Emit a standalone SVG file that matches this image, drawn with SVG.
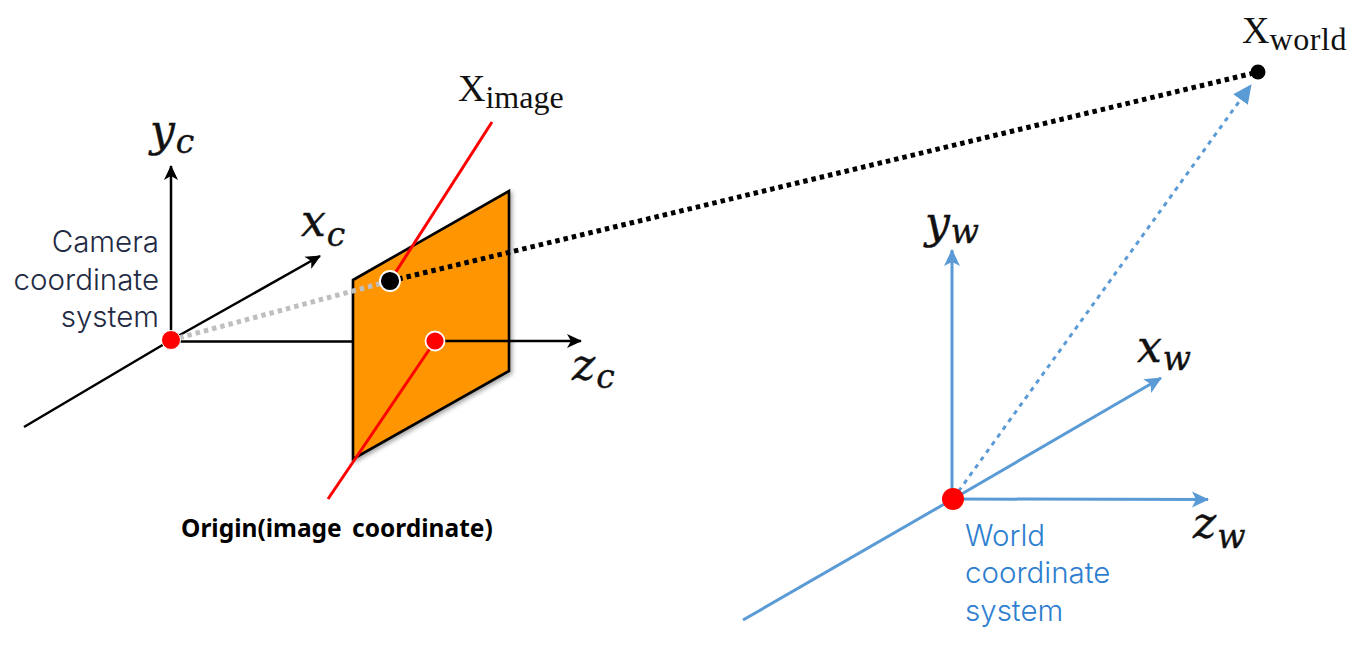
<svg xmlns="http://www.w3.org/2000/svg" width="1357" height="646" viewBox="0 0 1357 646">
  <style>
    .math { font-family: "DejaVu Serif", "Liberation Serif", serif; font-style: italic; fill: #111; stroke: #111; stroke-width: 0.4; }
    .mname { font-size: 44px; }
    .msub { font-size: 33px; }
    .cap { font-family: "Liberation Serif", "DejaVu Serif", serif; fill: #111; }
    .label { font-family: Inter, "Noto Sans", "Liberation Sans", sans-serif; font-size: 29.500px; font-weight: 300; }
    .black { stroke: #000; stroke-width: 2.500; fill: none; }
    .blue { stroke: #5b9bd5; stroke-width: 3; fill: none; }
    .red { stroke: #f00; stroke-width: 3; fill: none; }
  </style>
  <defs>
    <marker id="headBlack" markerUnits="userSpaceOnUse" markerWidth="16" markerHeight="16" refX="14" refY="8" orient="auto">
      <path d="M0,1 L15,8 L0,15 L4,8 Z" fill="#000"/>
    </marker>
    <marker id="headBlue" markerUnits="userSpaceOnUse" markerWidth="18" markerHeight="18" refX="16" refY="8" orient="auto">
      <path d="M0,0 L17,8 L0,16 L4,8 Z" fill="#5b9bd5"/>
    </marker>
    <marker id="headBlueSolid" markerUnits="userSpaceOnUse" markerWidth="20" markerHeight="20" refX="18" refY="10" orient="auto">
      <path d="M0,1 L19,10 L0,19 Z" fill="#5b9bd5"/>
    </marker>
    <filter id="soft" x="-10%" y="-10%" width="125%" height="125%">
      <feDropShadow dx="2" dy="2" stdDeviation="2" flood-color="#000" flood-opacity="0.35"/>
    </filter>
  </defs>

  <!-- Image plane sits under the rays that pass through it -->
  <g id="image-plane">
    <polygon points="353,280 509,191 509,371 353,459" fill="#ff9500" stroke="#000" stroke-width="2.600" stroke-linejoin="miter" filter="url(#soft)"/>
  </g>

  <g id="connectors">
    <!-- camera axes -->
    <line class="black" x1="24" y1="427" x2="171" y2="340"/>
    <line class="black" x1="171" y1="340" x2="320" y2="256" marker-end="url(#headBlack)"/>
    <line class="black" x1="171" y1="340" x2="171" y2="166" marker-end="url(#headBlack)"/>
    <line class="black" x1="171" y1="341.500" x2="353" y2="341.500"/>
    <line class="black" x1="435" y1="341" x2="581" y2="341" marker-end="url(#headBlack)"/>
    <!-- world axes -->
    <line class="blue" x1="743" y1="620" x2="953" y2="499"/>
    <line class="blue" x1="952" y1="499" x2="952" y2="250" marker-end="url(#headBlue)"/>
    <line class="blue" x1="953" y1="499" x2="1161" y2="378" marker-end="url(#headBlue)"/>
    <line class="blue" x1="953" y1="499" x2="1208" y2="499.500" marker-end="url(#headBlue)"/>
    <!-- projection rays -->
    <line x1="171" y1="340" x2="390" y2="281" stroke="#bfbfbf" stroke-width="5" stroke-dasharray="4.500 4"/>
    <line x1="390" y1="281" x2="1258" y2="72" stroke="#000" stroke-width="5" stroke-dasharray="4.500 4"/>
    <line x1="953" y1="499" x2="1251" y2="85" stroke="#5b9bd5" stroke-width="3" stroke-dasharray="4.500 5" marker-end="url(#headBlueSolid)"/>
    <!-- red leader lines -->
    <line class="red" x1="390" y1="281" x2="492" y2="122"/>
    <line class="red" x1="435" y1="341" x2="328" y2="499"/>
  </g>

  <g id="camera-origin"><circle cx="171" cy="340" r="9.500" fill="#f00" stroke="#fff" stroke-width="1"/></g>
  <g id="image-origin"><circle cx="435" cy="341" r="9.500" fill="#f00" stroke="#fff" stroke-width="1.800"/></g>
  <g id="image-point"><circle cx="390" cy="281" r="10" fill="#000" stroke="#fff" stroke-width="1.800"/></g>
  <g id="world-point"><circle cx="1258" cy="72" r="7.500" fill="#000"/></g>
  <g id="world-origin"><circle cx="953" cy="499" r="11" fill="#f00"/></g>

  <g id="camera-axis-labels">
    <text class="math mname" x="150" y="146">y<tspan class="msub" dx="1" dy="7">c</tspan></text>
    <text class="math mname" x="301" y="236">x<tspan class="msub" dx="1" dy="10">c</tspan></text>
    <text class="math mname" x="572" y="380">z<tspan class="msub" dx="1" dy="8">c</tspan></text>
  </g>
  <g id="world-axis-labels">
    <text class="math mname" x="925" y="238">y<tspan class="msub" dx="1" dy="5">w</tspan></text>
    <text class="math mname" x="1137" y="362">x<tspan class="msub" dx="1" dy="8">w</tspan></text>
    <text class="math mname" x="1193" y="538">z<tspan class="msub" dx="1" dy="10">w</tspan></text>
  </g>

  <g id="point-labels">
    <text class="cap" x="458" y="101" font-size="38">X<tspan font-size="32" dy="7">image</tspan></text>
    <text class="cap" x="1242" y="43" font-size="38">X<tspan font-size="32" dy="7" letter-spacing="0.6">world</tspan></text>
  </g>

  <g id="camera-caption" class="label" fill="#1f2a44" text-anchor="end">
    <text x="159" y="252">Camera</text>
    <text x="159" y="290">coordinate</text>
    <text x="159" y="327">system</text>
  </g>
  <g id="world-caption" class="label" fill="#2f7fd0">
    <text x="965" y="546">World</text>
    <text x="965" y="583">coordinate</text>
    <text x="965" y="621">system</text>
  </g>
  <g id="origin-caption">
    <text x="181" y="537" font-family="'Noto Sans', 'Liberation Sans', sans-serif" font-size="24.500" font-weight="700" word-spacing="4" fill="#000">Origin(image coordinate)</text>
  </g>
</svg>
